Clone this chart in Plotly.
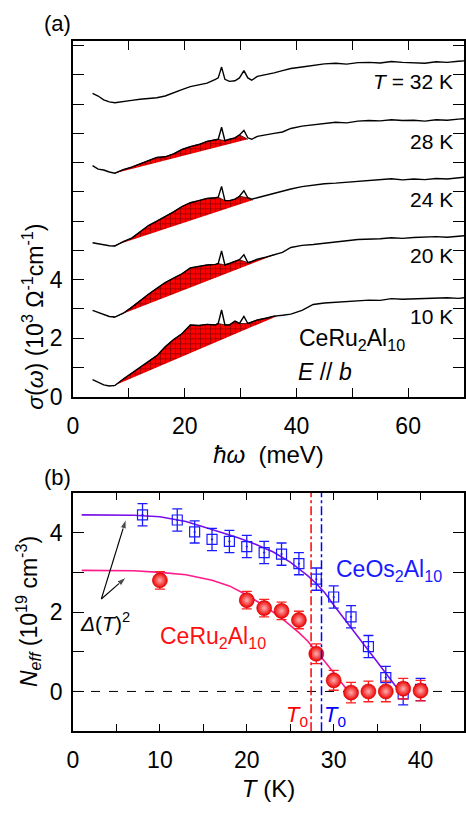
import plotly.graph_objects as go

# ---------------- data: panel (a) optical conductivity spectra ----------------
E_MEV = [3.5, 4.5, 5.5, 6.5, 7.5, 9, 10.5, 12, 13.5, 15, 16.5, 18, 19.5, 21, 22.5, 24,
         25.5, 26.0, 26.6, 27.2, 28, 29, 29.8, 30.6, 31.3, 32, 33, 34.5, 36, 37.5, 39,
         41, 43, 45, 47, 49, 51, 53, 55, 57, 59, 61, 63, 65, 67, 69, 70]

SIG_32K = [10.37, 10.28, 10.15, 10.08, 10.05, 10.1, 10.13, 10.17, 10.2, 10.22, 10.28, 10.4,
           10.5, 10.6, 10.65, 10.72, 10.85, 10.9, 11.27, 10.85, 10.78, 10.8, 10.9, 11.15,
           10.9, 10.82, 10.95, 11.0, 11.07, 11.15, 11.22, 11.27, 11.33, 11.38, 11.4, 11.37,
           11.42, 11.43, 11.41, 11.46, 11.43, 11.42, 11.4, 11.45, 11.43, 11.47, 11.48]
SIG_28K = [7.9, 7.78, 7.75, 7.68, 7.64, 7.76, 7.85, 7.97, 8.07, 8.18, 8.2, 8.3,
           8.45, 8.55, 8.62, 8.73, 8.78, 8.8, 9.21, 8.75, 8.8, 8.85, 8.95, 9.1,
           8.85, 8.8, 8.9, 8.94, 9.0, 9.05, 9.17, 9.25, 9.3, 9.35, 9.38, 9.36,
           9.42, 9.44, 9.43, 9.47, 9.44, 9.45, 9.42, 9.47, 9.45, 9.49, 9.5]
SIG_24K = [5.26, 5.22, 5.2, 5.16, 5.15, 5.3, 5.42, 5.62, 5.85, 6.0, 6.15, 6.32,
           6.5, 6.63, 6.7, 6.78, 6.8, 6.82, 7.19, 6.7, 6.7, 6.75, 6.85, 7.04,
           6.8, 6.75, 6.8, 6.88, 6.95, 7.02, 7.1, 7.18, 7.23, 7.28, 7.3, 7.33,
           7.37, 7.38, 7.42, 7.45, 7.41, 7.44, 7.42, 7.46, 7.44, 7.49, 7.5]
SIG_20K = [2.95, 2.88, 2.8, 2.74, 2.72, 2.85, 3.05, 3.28, 3.5, 3.7, 3.9, 4.05,
           4.2, 4.4, 4.45, 4.5, 4.52, 4.55, 4.98, 4.5, 4.55, 4.62, 4.68, 4.85,
           4.58, 4.62, 4.7, 4.77, 4.85, 4.93, 5.1, 5.17, 5.2, 5.25, 5.28, 5.33,
           5.37, 5.38, 5.4, 5.43, 5.41, 5.44, 5.45, 5.47, 5.45, 5.49, 5.5]
SIG_10K = [0.58, 0.48, 0.4, 0.36, 0.38, 0.6, 0.8, 0.98, 1.18, 1.4, 1.7, 1.95,
           2.15, 2.45, 2.43, 2.47, 2.45, 2.5, 2.96, 2.45, 2.45, 2.58, 2.5, 2.74,
           2.5, 2.55, 2.62, 2.68, 2.75, 2.78, 2.82, 2.95, 3.15, 3.2, 3.22, 3.25,
           3.27, 3.3, 3.29, 3.35, 3.33, 3.34, 3.36, 3.35, 3.38, 3.36, 3.38]

SPECTRA = [SIG_32K, SIG_28K, SIG_24K, SIG_20K, SIG_10K]
SPEC_LABELS = ["<i>T</i> = 32 K", "28 K", "24 K", "20 K", "10 K"]
LABEL_SIG = [10.77, 8.72, 6.73, 4.81, 2.73]

# shaded (gap) regions: spectra index, baseline end points
FILL_IDX = [1, 2, 3, 4]
BASE_E0 = [7.5, 7.2, 7.2, 7.2]
BASE_E1 = [31.3, 32.2, 36.4, 36.4]
BASE_S0 = [7.64, 5.15, 2.7, 0.36]
BASE_S1 = [8.8, 6.72, 4.87, 2.74]
PHONON_E = [26.6, 30.6]

# ---------------- data: panel (b) effective carrier number ----------------
T_RU = [10, 20, 22, 24, 26, 28, 30, 32, 34, 36, 38, 40]
N_RU = [2.8, 2.3, 2.1, 2.03, 1.8, 0.95, 0.28, -0.03, 0.0, 0.0, 0.07, 0.02]
ERR_RU = [0.22, 0.22, 0.22, 0.22, 0.22, 0.25, 0.25, 0.26, 0.26, 0.26, 0.26, 0.26]

T_OS = [8, 12, 14, 16, 18, 20, 22, 24, 26, 28, 30, 32, 34, 36, 38, 40]
N_OS = [4.45, 4.32, 4.02, 3.83, 3.78, 3.65, 3.5, 3.46, 3.22, 2.83, 2.38, 1.88, 1.13, 0.35, -0.06, 0.05]
ERR_OS = [0.28] * 16

FIT_OS_T = [1, 4, 7, 10, 13, 16, 19, 21, 23, 25, 26, 27, 28, 29, 30, 31, 32, 33, 34, 35, 36, 37, 37.6]
FIT_OS_N = [4.45, 4.45, 4.44, 4.4, 4.28, 4.08, 3.87, 3.71, 3.52, 3.26, 3.1, 2.92, 2.72, 2.48, 2.18,
            1.9, 1.6, 1.32, 1.03, 0.75, 0.46, 0.18, 0.0]
FIT_RU_T = [1, 4, 7, 10, 13, 16, 18, 20, 22, 24, 25, 26, 27, 28, 29, 30, 31, 31.7]
FIT_RU_N = [3.05, 3.05, 3.04, 3.0, 2.94, 2.8, 2.66, 2.43, 2.16, 1.85, 1.67, 1.48, 1.27, 1.02,
            0.75, 0.47, 0.2, 0.0]

T0_RU = 27.4
T0_OS = 28.6

# arrows from the Delta(T)^2 label to the two fit curves (tail, head)
ARROW_TAIL = (3.26, 2.33)
ARROW_HEADS = [(6.1, 4.34), (6.13, 2.88)]

# ---------------- geometry ----------------
W, H = 466, 814
ML, MR = 73, 2
PW = W - ML - MR


def pyy(p):
    return 1 - p / H


def pxx(p):
    return (p - ML) / PW


FONT = "Liberation Sans, Arial, sans-serif"
fig = go.Figure()

# panel (a): fills
for k, idx in enumerate(FILL_IDX):
    sig = SPECTRA[idx]
    xs = [BASE_E0[k]]
    ys = [BASE_S0[k]]
    for e, s in zip(E_MEV, sig):
        if BASE_E0[k] < e < BASE_E1[k] and e not in PHONON_E:
            xs.append(e)
            ys.append(s)
    xs.append(BASE_E1[k])
    ys.append(BASE_S1[k])
    fig.add_trace(go.Scatter(
        x=xs, y=ys, mode="lines", fill="toself", fillcolor="#ff0000",
        fillpattern=dict(shape="+", bgcolor="#ff0000", fgcolor="#000000", size=5, solidity=0.25),
        line=dict(color="#400000", width=0.8), xaxis="x", yaxis="y",
        showlegend=False, hoverinfo="skip"))

# panel (a): spectra
for sig in SPECTRA:
    fig.add_trace(go.Scatter(x=E_MEV, y=sig, mode="lines",
                             line=dict(color="black", width=1.4),
                             xaxis="x", yaxis="y", showlegend=False))

# panel (b): fit curves
fig.add_trace(go.Scatter(x=FIT_OS_T, y=FIT_OS_N, mode="lines",
                         line=dict(color="#7a10e8", width=1.6),
                         xaxis="x2", yaxis="y2", showlegend=False))
fig.add_trace(go.Scatter(x=FIT_RU_T, y=FIT_RU_N, mode="lines",
                         line=dict(color="#ff1a8c", width=1.6),
                         xaxis="x2", yaxis="y2", showlegend=False))

# arrows
for hx, hy in ARROW_HEADS:
    fig.add_trace(go.Scatter(
        x=[ARROW_TAIL[0], hx], y=[ARROW_TAIL[1], hy], mode="lines+markers",
        line=dict(color="black", width=1.1),
        marker=dict(symbol="arrow", size=[0, 10], angleref="previous", color="black"),
        xaxis="x2", yaxis="y2", showlegend=False, hoverinfo="skip"))

# panel (b): data
fig.add_trace(go.Scatter(
    x=T_OS, y=N_OS, mode="markers",
    marker=dict(symbol="square-open-dot", size=10, color="#1a1aff", line=dict(width=1.2, color="#1a1aff")),
    error_y=dict(type="data", array=ERR_OS, color="#1a1aff", thickness=1.3, width=5),
    xaxis="x2", yaxis="y2", showlegend=False))
fig.add_trace(go.Scatter(
    x=T_RU, y=N_RU, mode="markers",
    marker=dict(symbol="circle", size=15, color="#ee0000",
                gradient=dict(type="radial", color="#ffb0b0"),
                line=dict(width=0.6, color="#cc0000")),
    error_y=dict(type="data", array=ERR_RU, color="#ff2020", thickness=1.3, width=5),
    xaxis="x2", yaxis="y2", showlegend=False))

# reference lines (data coordinates)
shapes = [
    dict(type="line", xref="x2", yref="y2", x0=0, x1=45, y0=0, y1=0,
         line=dict(color="black", width=1, dash="dash"), layer="below"),
    dict(type="line", xref="x2", yref="y2", x0=T0_RU, x1=T0_RU, y0=-1, y1=5,
         line=dict(color="#ff0000", width=1.5, dash="dashdot")),
    dict(type="line", xref="x2", yref="y2", x0=T0_OS, x1=T0_OS, y0=-1, y1=5,
         line=dict(color="#0000ff", width=1.5, dash="dashdot")),
]

ann = []
for lab, s in zip(SPEC_LABELS, LABEL_SIG):
    ann.append(dict(x=68.4, y=s, xref="x", yref="y", text=lab, showarrow=False,
                    xanchor="right", yanchor="middle", font=dict(size=21, color="black")))
ann += [
    dict(x=40.1, y=1.95, xref="x", yref="y", text="CeRu<sub>2</sub>Al<sub>10</sub>", showarrow=False,
         xanchor="left", yanchor="middle", font=dict(size=23, color="black")),
    dict(x=39.9, y=0.84, xref="x", yref="y", text="<i>E</i> // <i>b</i>", showarrow=False,
         xanchor="left", yanchor="middle", font=dict(size=23, color="black")),
    dict(x=pxx(57), y=pyy(24), xref="paper", yref="paper", text="(a)", showarrow=False,
         xanchor="center", yanchor="middle", font=dict(size=22, color="black")),
    dict(x=pxx(57), y=pyy(485), xref="paper", yref="paper", text="(b)", showarrow=False,
         xanchor="center", yanchor="middle", font=dict(size=22, color="black")),
    dict(x=pxx(33), y=pyy(322), xref="paper", yref="paper", textangle=-90,
         text="<i>σ</i>(<i>ω</i>) (10<sup>3</sup> Ω<sup>-1</sup>cm<sup>-1</sup>)", showarrow=False,
         xanchor="center", yanchor="middle", font=dict(size=23, color="black")),
    dict(x=pxx(28), y=pyy(622), xref="paper", yref="paper", textangle=-90,
         text="<i>N</i><sub><i>eff</i></sub> (10<sup>19</sup> cm<sup>-3</sup>)", showarrow=False,
         xanchor="center", yanchor="middle", font=dict(size=23, color="black")),
    dict(x=30.0, y=3.05, xref="x2", yref="y2", text="CeOs<sub>2</sub>Al<sub>10</sub>", showarrow=False,
         xanchor="left", yanchor="middle", font=dict(size=23, color="#1a1aff")),
    dict(x=9.8, y=1.35, xref="x2", yref="y2", text="CeRu<sub>2</sub>Al<sub>10</sub>", showarrow=False,
         xanchor="left", yanchor="middle", font=dict(size=23, color="#ff1010")),
    dict(x=3.7, y=1.75, xref="x2", yref="y2", text="<i>Δ</i>(<i>T</i>)<sup>2</sup>", showarrow=False,
         xanchor="center", yanchor="middle", font=dict(size=21, color="black")),
    dict(x=T0_RU - 1.6, y=-0.62, xref="x2", yref="y2", text="<i>T</i><sub>0</sub>", showarrow=False,
         xanchor="center", yanchor="middle", font=dict(size=22, color="#ff0000")),
    dict(x=T0_OS + 1.5, y=-0.62, xref="x2", yref="y2", text="<i>T</i><sub>0</sub>", showarrow=False,
         xanchor="center", yanchor="middle", font=dict(size=22, color="#0000ff")),
]

axis_common = dict(showline=True, linecolor="black", linewidth=1.5, mirror="allticks",
                   ticks="inside", tickcolor="black", tickwidth=1.3, showgrid=False,
                   zeroline=False, tickfont=dict(size=23, color="black"))

fig.update_layout(
    width=W, height=H, margin=dict(l=ML, r=MR, t=0, b=0),
    paper_bgcolor="white", plot_bgcolor="white",
    font=dict(family=FONT, color="black"),
    shapes=shapes, annotations=ann,
    xaxis=dict(domain=[0, 1], anchor="y", range=[0, 70], tickmode="array",
               tickvals=[0, 20, 40, 60], ticklen=9, ticklabelstandoff=8,
               minor=dict(tickmode="array", tickvals=[10, 30, 50, 70], ticks="inside",
                          ticklen=9, tickcolor="black", tickwidth=1.3),
               title=dict(text="<i>ħω</i>  (meV)", font=dict(size=24), standoff=8),
               **axis_common),
    yaxis=dict(domain=[pyy(403), pyy(42)], anchor="x", range=[0, 12.15], tickmode="array",
               tickvals=[0, 2, 4], ticklen=11, ticklabelstandoff=4,
               minor=dict(tickmode="array", tickvals=[1, 3, 5, 6, 7, 8, 9, 10, 11, 12],
                          ticks="inside", ticklen=11, tickcolor="black", tickwidth=1.3),
               **axis_common),
    xaxis2=dict(domain=[0, 1], anchor="y2", range=[0, 45], tickmode="array",
                tickvals=[0, 10, 20, 30, 40], ticklen=7, ticklabelstandoff=8,
                minor=dict(tickmode="array", tickvals=[5, 15, 25, 35, 45], ticks="inside",
                           ticklen=7, tickcolor="black", tickwidth=1.3),
                title=dict(text="<i>T</i> (K)", font=dict(size=24), standoff=8),
                **axis_common),
    yaxis2=dict(domain=[pyy(743), pyy(501)], anchor="x2", range=[-1, 5], tickmode="array",
                tickvals=[0, 2, 4], ticklen=11, ticklabelstandoff=4,
                minor=dict(tickmode="array", tickvals=[-1, 1, 3, 5], ticks="inside",
                           ticklen=11, tickcolor="black", tickwidth=1.3),
                **axis_common),
)

fig.write_html("out.html", config={"displayModeBar": False},
               post_script="document.body.style.margin='0px';document.body.style.overflow='hidden';")
